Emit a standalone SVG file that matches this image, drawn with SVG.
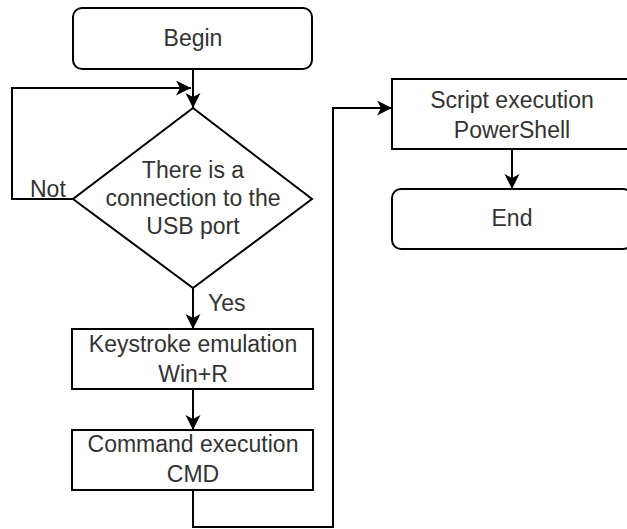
<svg xmlns="http://www.w3.org/2000/svg" width="627" height="529" viewBox="0 0 627 529">
  <style>
    .shape { fill: #ffffff; stroke: #000000; stroke-width: 2; }
    .edge { fill: none; stroke: #000000; stroke-width: 2; }
    .label { font-family: "Liberation Sans", Arial, sans-serif; font-size: 23px; fill: #333333; text-anchor: middle; }
    .small { font-family: "Liberation Sans", Arial, sans-serif; font-size: 23px; fill: #333333; }
  </style>
  <defs>
    <marker id="arrow" markerWidth="18" markerHeight="18" refX="15" refY="7.5" orient="auto" markerUnits="userSpaceOnUse">
      <path d="M0,0 L15,7.5 L0,15 L4,7.5 Z" fill="#000000"/>
    </marker>
  </defs>
  <rect width="627" height="529" fill="#ffffff"/>

  <!-- connectors -->
  <g id="connectors">
    <path class="edge" d="M193,69 L193,108" marker-end="url(#arrow)"/>
    <path class="edge" d="M73,199 L12,199 L12,88 L191,88" marker-end="url(#arrow)"/>
    <path class="edge" d="M193,288 L193,329" marker-end="url(#arrow)"/>
    <path class="edge" d="M193,389 L193,430" marker-end="url(#arrow)"/>
    <path class="edge" d="M193,490 L193,527 L333,527 L333,108 L392,108" marker-end="url(#arrow)"/>
    <path class="edge" d="M512,149 L512,189" marker-end="url(#arrow)"/>
    <text class="small" x="30" y="197">Not</text>
    <text class="small" x="208" y="311">Yes</text>
  </g>

  <g id="begin">
    <rect class="shape" x="73" y="8" width="239" height="61" rx="9"/>
    <text class="label" x="193" y="46">Begin</text>
  </g>

  <g id="usb-check">
    <polygon class="shape" points="193,108 312,199 193,288 73,199"/>
    <text class="label" x="193" y="178">There is a</text>
    <text class="label" x="193" y="206">connection to the</text>
    <text class="label" x="193" y="234">USB port</text>
  </g>

  <g id="keystroke">
    <rect class="shape" x="72" y="329" width="241" height="60"/>
    <text class="label" x="193" y="352">Keystroke emulation</text>
    <text class="label" x="193" y="382">Win+R</text>
  </g>

  <g id="command">
    <rect class="shape" x="72" y="430" width="241" height="60"/>
    <text class="label" x="193" y="452">Command execution</text>
    <text class="label" x="193" y="482">CMD</text>
  </g>

  <g id="script">
    <rect class="shape" x="392" y="79" width="240" height="70"/>
    <text class="label" x="512" y="108">Script execution</text>
    <text class="label" x="512" y="138">PowerShell</text>
  </g>

  <g id="end">
    <rect class="shape" x="392" y="189" width="240" height="60" rx="9"/>
    <text class="label" x="512" y="226">End</text>
  </g>
</svg>
